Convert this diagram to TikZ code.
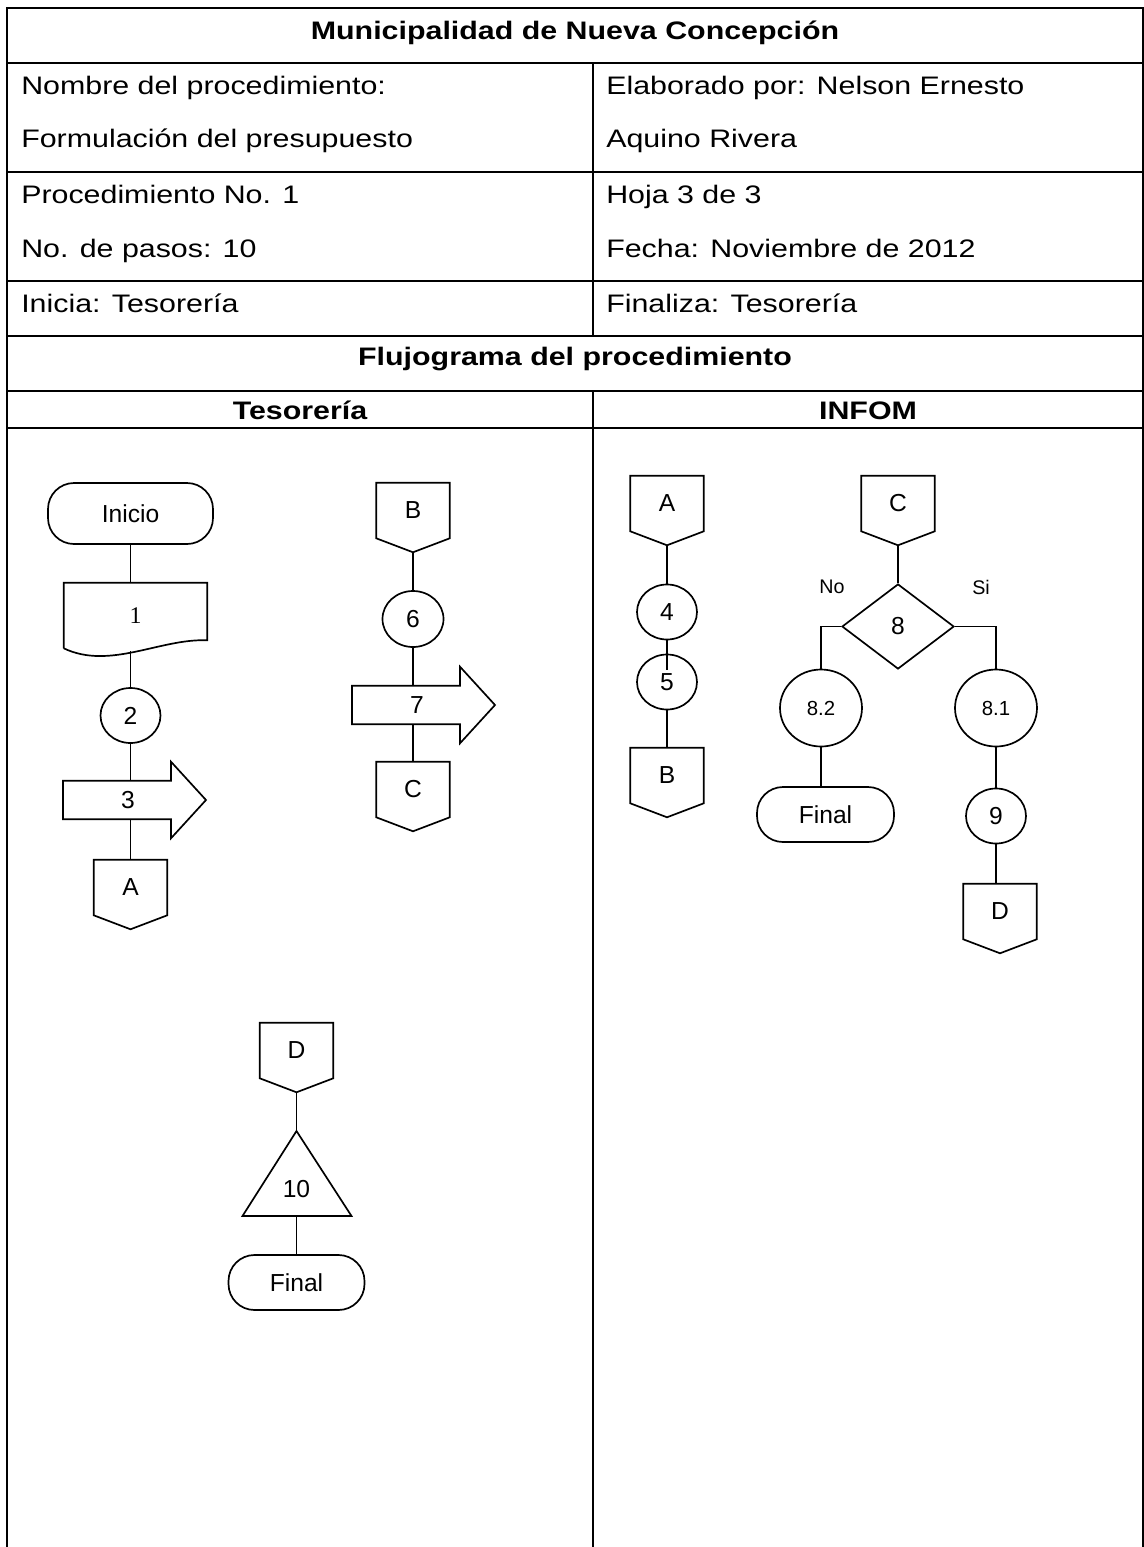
\documentclass[tikz,border=0pt]{standalone}
\usepackage{fontspec}
\setmainfont{Liberation Sans}
\newfontfamily\tablefont[FakeStretch=1.2]{Liberation Sans}
\newfontfamily\docfont{Liberation Serif}
\usetikzlibrary{calc}
\usetikzlibrary{shapes.geometric}
\def\px{0.025cm}
\tikzstyle{table line}=[line width=1.6pt]
\tikzstyle{flow line}=[line width=1.2pt]
\tikzstyle{cell text}=[anchor=base west,inner sep=0,font=\tablefont\fontsize{18}{22}\selectfont]
\tikzstyle{head text}=[anchor=base,inner sep=0,font=\tablefont\bfseries\fontsize{18}{22}\selectfont]
\tikzstyle{terminal}=[draw,flow line,rectangle,rounded corners=0.65cm,minimum width=137*\px,minimum height=55*\px,inner sep=0,font=\fontsize{17.5}{20}\selectfont]
\tikzstyle{stepcircle}=[draw,flow line,ellipse,minimum width=60*\px,minimum height=55*\px,inner sep=0,font=\fontsize{17.5}{20}\selectfont]
\tikzstyle{subcircle}=[stepcircle,minimum width=82*\px,minimum height=77*\px,font=\fontsize{14.5}{17}\selectfont]
\tikzstyle{decision}=[draw,flow line,diamond,minimum width=112*\px,minimum height=85*\px,inner sep=0,font=\fontsize{17.5}{20}\selectfont]
\tikzstyle{offpage}=[rectangle,minimum width=73*\px,minimum height=55*\px,inner sep=0,font=\fontsize{17.5}{20}\selectfont]
\tikzstyle{docbox}=[rectangle,minimum width=143*\px,minimum height=65*\px,inner sep=0,font=\docfont\fontsize{17}{20}\selectfont]
\tikzstyle{procarrow}=[rectangle,minimum height=38*\px,inner sep=0,font=\fontsize{17.5}{20}\selectfont]
\tikzstyle{small text}=[inner sep=0,font=\fontsize{14}{16}\selectfont]

\begin{document}
\begin{tikzpicture}[x=0.025cm,y=-0.025cm]
  \useasboundingbox (0,0) rectangle (1144,1547);

  % TABLE FRAME
  \draw[table line] (7,1547) -- (7,8) -- (1143,8) -- (1143,1547);
  \foreach \y in {63,172,281,336,391,428}{
    \draw[table line] (7,\y) -- (1143,\y);
  }
  \draw[table line] (593,63) -- (593,336);
  \draw[table line] (593,391) -- (593,1547);

  % TABLE TEXT
  \node[head text] (title) at (575,39) {Municipalidad de Nueva Concepción};
  \node[cell text] (nombre) at (21,94) {Nombre del procedimiento:};
  \node[cell text] (formul) at (21,147) {Formulación del presupuesto};
  \node[cell text] (proc) at (21,203) {Procedimiento No. 1};
  \node[cell text] (pasos) at (21,257) {No. de pasos: 10};
  \node[cell text] (inicia) at (21,312) {Inicia: Tesorería};
  \node[cell text] (elab) at (606,94) {Elaborado por: Nelson Ernesto};
  \node[cell text] (aquino) at (606,147) {Aquino Rivera};
  \node[cell text] (hoja) at (606,203) {Hoja 3 de 3};
  \node[cell text] (fecha) at (606,257) {Fecha: Noviembre de 2012};
  \node[cell text] (finaliza) at (606,312) {Finaliza: Tesorería};
  \node[head text] (flujo) at (575,365) {Flujograma del procedimiento};
  \node[head text] (tes) at (300,419) {Tesorería};
  \node[head text] (infom) at (868,419) {INFOM};

  % TESORERIA, FIRST COLUMN
  \node[terminal,minimum width=165*\px,minimum height=61*\px] (ini) at (130.5,513.5) {Inicio};
  \node[docbox] (doc1) at (135.5,615.5) {1};
  \node[stepcircle] (c2) at (130.5,715.5) {2};
  \node[procarrow] (ar3) at (128,800) {3};
  \node[offpage] (A1) at (130.5,887.5) {A};

  % TESORERIA, SECOND COLUMN
  \node[offpage] (B1) at (413,510.5) {B};
  \node[stepcircle,minimum width=61*\px,minimum height=56*\px] (c6) at (413,619) {6};
  \node[procarrow] (ar7) at (417,705) {7};
  \node[offpage] (C1) at (413,789.5) {C};

  % INFOM
  \node[offpage] (A2) at (667,503.5) {A};
  \node[stepcircle] (c4) at (667,612) {4};
  \node[stepcircle] (c5) at (667,682) {5};
  \node[offpage] (B2) at (667,775.5) {B};
  \node[offpage] (C2) at (898,503.5) {C};
  \node[decision] (dia8) at (898,626.5) {8};
  \node[small text] (no8) at (832,587) {No};
  \node[small text] (si8) at (981,587) {Si};
  \node[subcircle] (c82) at (821,708) {8.2};
  \node[subcircle] (c81) at (996,708) {8.1};
  \node[terminal] (fin2) at (825.5,814.5) {Final};
  \node[stepcircle] (c9) at (996,816) {9};
  \node[offpage] (D2) at (1000,911.5) {D};

  % TESORERIA, END
  \node[offpage] (D1) at (296.5,1050.5) {D};
  \node[inner sep=0,font=\fontsize{17.5}{20}\selectfont] (t10) at (296.5,1189) {10};
  \node[terminal,minimum width=136*\px] (fin1) at (296.5,1282.5) {Final};

  % OUTLINES
  \foreach \n in {A1,B1,C1,D1,A2,B2,C2,D2}{
    \coordinate (\n-tip) at ($(\n.south)+(0,14)$);
    \draw[flow line] (\n.south west) -- (\n.north west) -- (\n.north east) -- (\n.south east)
      -- (\n-tip) -- cycle;
  }
  \foreach \n in {ar3,ar7}{
    \draw[flow line] ($(\n.north)+(-65,0)$) -- ($(\n.north)+(43,0)$) -- ($(\n.north)+(43,-19)$)
      -- ($(\n.center)+(78,0)$) -- ($(\n.south)+(43,19)$) -- ($(\n.south)+(43,0)$)
      -- ($(\n.south)+(-65,0)$) -- cycle;
  }
  \draw[flow line] (doc1.south west) -- (doc1.north west) -- (doc1.north east)
    -- ($(doc1.south east)+(0,-8)$) .. controls ($(doc1.south east)+(-47,-10)$)
    and ($(doc1.south west)+(46,22)$) .. (doc1.south west);
  \coordinate (doc1-wave) at ($(doc1.south)+(-5,3)$);
  \coordinate (t10-apex) at ($(t10)+(0,-58)$);
  \coordinate (t10-base) at ($(t10)+(0,27)$);
  \draw[flow line] (t10-apex) -- ($(t10-base)+(-54,0)$) -- ($(t10-base)+(55,0)$) -- cycle;
  \coordinate (c5-mid) at ($(c5.center)+(0,-12)$);

  % CONNECTORS
  \draw[flow line] (ini.south) -- (ini.south |- doc1.north);
  \draw[flow line] (doc1-wave) -- (doc1-wave |- c2.north);
  \draw[flow line] (c2.south) -- (c2.south |- ar3.north);
  \draw[flow line] (c2.south |- ar3.south) -- (A1.north);
  \draw[flow line] (B1-tip) -- (c6.north);
  \draw[flow line] (c6.south) -- (c6.south |- ar7.north);
  \draw[flow line] (c6.south |- ar7.south) -- (C1.north);
  \draw[flow line] (A2-tip) -- (c4.north);
  \draw[flow line] (c4.south) -- (c5-mid);
  \draw[flow line] (c5.south) -- (B2.north);
  \draw[flow line] (C2-tip) -- (dia8.north);
  \draw[flow line] (dia8.west) -| (c82.north);
  \draw[flow line] (dia8.east) -| (c81.north);
  \draw[flow line] (c82.south) -- (c82.south |- fin2.north);
  \draw[flow line] (c81.south) -- (c9.north);
  \draw[flow line] (c9.south) -- (c9.south |- D2.north);
  \draw[flow line] (D1-tip) -- (t10-apex);
  \draw[flow line] (t10-base) -- (fin1.north);

\end{tikzpicture}
\end{document}
